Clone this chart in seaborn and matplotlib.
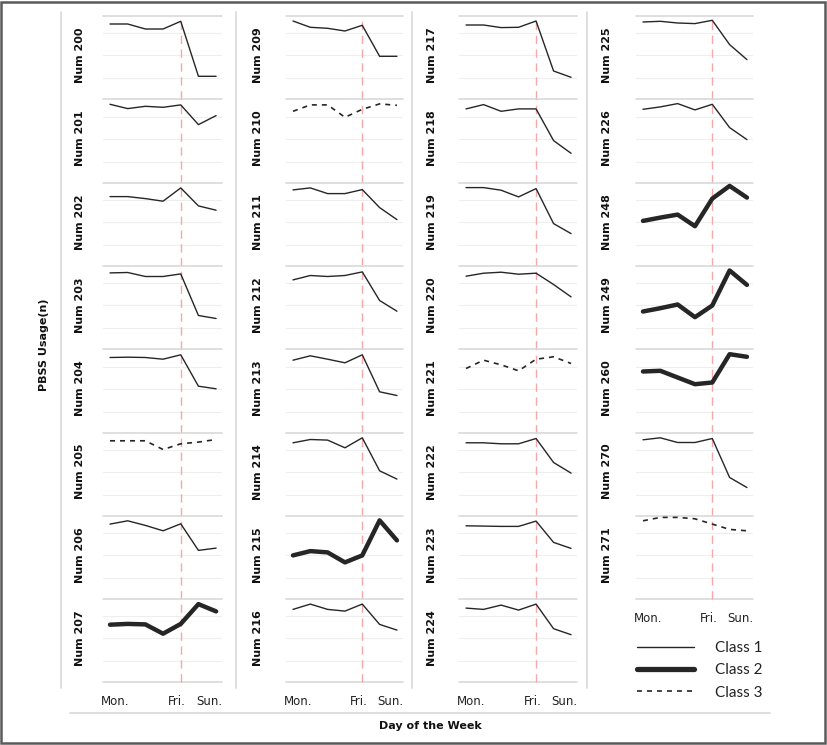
import matplotlib
matplotlib.use("Agg")
import matplotlib.pyplot as plt
import numpy as np
import pandas as pd
import seaborn as sns
from matplotlib.lines import Line2D
from matplotlib.patches import Rectangle

# ---------------- data ----------------
days = ["Mon.", "Tue.", "Wed.", "Thu.", "Fri.", "Sat.", "Sun."]
tick_labels = ["Mon.", "Fri.", "Sun."]

num_200 = [75.3, 75.3, 70.3, 70.3, 78.0, 23.0, 23.0]
num_201 = [78.3, 74.0, 76.3, 75.3, 77.7, 58.0, 67.0]
num_202 = [69.3, 69.3, 67.3, 64.7, 78.0, 60.0, 55.7]
num_203 = [76.3, 76.7, 72.7, 72.7, 75.3, 33.7, 30.7]
num_204 = [75.0, 75.3, 75.0, 73.3, 77.7, 46.3, 43.7]
num_205 = [75.0, 75.0, 75.0, 66.3, 72.0, 73.7, 76.3]
num_206 = [75.0, 78.3, 73.7, 68.3, 75.3, 48.7, 51.0]
num_207 = [57.7, 58.5, 58.0, 48.7, 58.5, 78.3, 71.0]

num_209 = [78.3, 72.0, 71.0, 68.3, 74.0, 43.0, 43.0]
num_210 = [71.3, 77.7, 77.7, 65.3, 73.3, 78.7, 77.3]
num_211 = [76.0, 78.0, 72.3, 72.3, 76.3, 58.3, 46.3]
num_212 = [69.3, 73.7, 72.7, 73.7, 77.3, 48.7, 38.0]
num_213 = [72.3, 76.7, 73.3, 69.7, 77.7, 40.7, 37.0]
num_214 = [73.0, 76.3, 75.7, 68.0, 78.0, 45.0, 36.7]
num_215 = [43.7, 48.0, 46.7, 36.7, 43.7, 78.7, 58.7]
num_216 = [73.0, 78.3, 73.0, 71.3, 78.3, 58.0, 52.3]

num_217 = [74.3, 74.3, 71.7, 72.0, 78.3, 28.3, 22.0]
num_218 = [73.7, 78.0, 71.3, 73.7, 73.7, 42.0, 29.3]
num_219 = [78.3, 78.3, 75.7, 69.0, 77.3, 42.3, 32.3]
num_220 = [73.0, 76.0, 77.0, 75.0, 76.0, 64.7, 52.3]
num_221 = [64.0, 72.3, 67.7, 61.7, 73.3, 75.7, 69.0]
num_222 = [73.0, 73.0, 72.0, 72.0, 77.3, 53.3, 42.7]
num_223 = [73.3, 73.0, 72.7, 72.7, 78.0, 56.7, 50.7]
num_224 = [74.3, 73.0, 77.3, 72.3, 78.3, 53.7, 47.7]

num_225 = [77.3, 78.0, 76.3, 75.7, 79.0, 54.7, 39.7]
num_226 = [73.3, 75.7, 79.0, 72.7, 78.3, 55.0, 43.0]
num_248 = [45.0, 48.3, 51.3, 39.7, 67.3, 80.0, 68.3]
num_249 = [37.7, 41.0, 44.7, 32.0, 43.7, 78.7, 64.3]
num_260 = [61.0, 61.7, 55.0, 48.3, 50.0, 78.3, 75.7]
num_270 = [76.0, 78.0, 73.3, 73.3, 77.3, 38.3, 28.3]
num_271 = [78.3, 81.7, 81.7, 80.3, 75.0, 69.7, 68.3]

column_1 = [200, 201, 202, 203, 204, 205, 206, 207]
column_2 = [209, 210, 211, 212, 213, 214, 215, 216]
column_3 = [217, 218, 219, 220, 221, 222, 223, 224]
column_4 = [225, 226, 248, 249, 260, 270, 271]

class_2_ids = [207, 215, 248, 249, 260]
class_3_ids = [205, 210, 221, 271]

series = {
    200: num_200, 201: num_201, 202: num_202, 203: num_203, 204: num_204,
    205: num_205, 206: num_206, 207: num_207,
    209: num_209, 210: num_210, 211: num_211, 212: num_212, 213: num_213,
    214: num_214, 215: num_215, 216: num_216,
    217: num_217, 218: num_218, 219: num_219, 220: num_220, 221: num_221,
    222: num_222, 223: num_223, 224: num_224,
    225: num_225, 226: num_226, 248: num_248, 249: num_249, 260: num_260,
    270: num_270, 271: num_271,
}

rows = []
for sid, vals in series.items():
    cls = 2 if sid in class_2_ids else (3 if sid in class_3_ids else 1)
    for i, v in enumerate(vals):
        rows.append({"station": sid, "day": i, "usage": v, "cls": cls})
df = pd.DataFrame(rows)

# ---------------- style ----------------
sns.set_theme(style="white")
plt.rcParams["font.family"] = ["DejaVu Sans"]

W, H = 827, 745
fig = plt.figure(figsize=(W / 100, H / 100), dpi=100)

line_color = "#262626"
styles = {
    1: dict(linewidth=1.0, linestyle="-"),
    2: dict(linewidth=3.2, linestyle="-"),
    3: dict(linewidth=1.2, linestyle=(0, (3, 3))),
}

col_left = [103.3, 286.4, 459.4, 636.4]
col_width = [119.0, 116.6, 117.8, 116.6]
col_lines_x = [61, 236.5, 412, 587]
label_offset = [-23, -28, -27, -29]
row_top0 = 16.0
row_h = 83.3
XLIM = (-0.38, 6.35)

columns = [column_1, column_2, column_3, column_4]
grid_light = "#eeeeee"
grid_dark = "#d9d9d9"

for c, ids in enumerate(columns):
    for r, sid in enumerate(ids):
        top = row_top0 + r * row_h
        ax = fig.add_axes([col_left[c] / W, 1 - (top + row_h) / H,
                           col_width[c] / W, row_h / H])
        ax.set_facecolor("none")
        sub = df[df["station"] == sid]
        cls = sub["cls"].iloc[0]
        for yv in [21, 44, 66]:
            ax.axhline(yv, color=grid_light, lw=0.8, zorder=0)
        ax.axhline(row_h, color=grid_dark, lw=1.2, zorder=0, clip_on=False)
        last = (r == len(ids) - 1)
        if last:
            ax.axhline(0, color=grid_dark, lw=1.2, zorder=0, clip_on=False)
        ax.axvline(4, color="#f5a8a8", lw=1.0, linestyle=(0, (6, 4)), zorder=1,
                   clip_on=False)
        sns.lineplot(data=sub, x="day", y="usage", ax=ax, color=line_color,
                     zorder=3, **styles[cls])
        ax.set_xlim(*XLIM)
        ax.set_ylim(0, row_h)
        ax.set_xlabel("")
        ax.set_ylabel("")
        ax.set_yticks([])
        for s in ax.spines.values():
            s.set_visible(False)
        if last:
            ax.set_xticks([0.3, 3.8, 5.6])
            ax.set_xticklabels(tick_labels, fontsize=8.5, color="#222222")
            ax.tick_params(axis="x", length=0, pad=9)
        else:
            ax.set_xticks([])
        ax.annotate(f"Num {sid}", xy=(0, 0.53), xycoords="axes fraction",
                    xytext=(label_offset[c] * 0.72, 0), textcoords="offset points",
                    rotation=90, ha="center", va="center", fontsize=8,
                    fontweight="bold", color="#111111")

# column separator lines
for x in col_lines_x:
    fig.add_artist(Line2D([x / W, x / W], [1 - 12 / H, 1 - 688 / H],
                          transform=fig.transFigure, color=grid_dark, lw=1.2))
# bottom line
fig.add_artist(Line2D([70 / W, 770 / W], [1 - 713 / H, 1 - 713 / H],
                      transform=fig.transFigure, color=grid_dark, lw=1.2))
# outer frame
fig.add_artist(Rectangle((1 / W, 2 / H), (W - 3) / W, (H - 4) / H,
                         transform=fig.transFigure, fill=False,
                         edgecolor="#5a5a5a", lw=1.8))

fig.text(430 / W, 1 - 726 / H, "Day of the Week", ha="center", va="center",
         fontsize=8, fontweight="bold", color="#111111")
fig.text(44 / W, 1 - 345 / H, "PBSS Usage(n)", ha="center", va="center",
         rotation=90, fontsize=8, fontweight="bold", color="#111111")

handles = [Line2D([], [], color=line_color, **styles[k]) for k in (1, 2, 3)]
handles[1].set_linewidth(3.8)
fig.legend(handles, ["Class 1", "Class 2", "Class 3"], loc="upper left",
           bbox_to_anchor=(637 / W, 1 - 641 / H), frameon=False,
           prop={"family": "Lato", "size": 11}, handlelength=3.75,
           handletextpad=1.35, labelspacing=0.55, borderpad=0,
           borderaxespad=0, labelcolor="#222222")

fig.savefig("out.png", dpi=100)
